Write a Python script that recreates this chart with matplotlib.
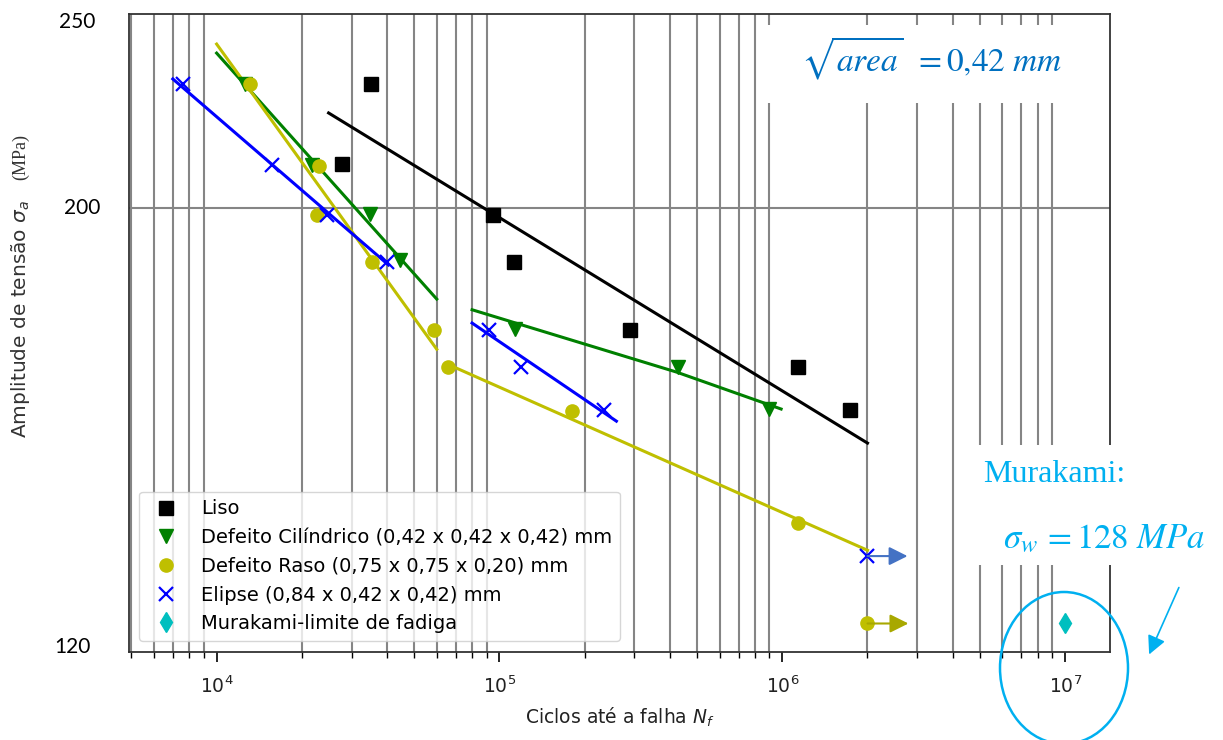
import matplotlib
matplotlib.use("Agg")
import matplotlib.pyplot as plt
from matplotlib.ticker import FixedLocator, NullFormatter
from matplotlib.patches import Ellipse, Rectangle, FancyArrowPatch

plt.rcParams["mathtext.fontset"] = "dejavusans"

# ---- data ----
liso_N = [27650, 35000, 94500, 112100, 290300, 1.139e6, 1.739e6]
liso_S = [210.4, 230.6, 198.4, 188.0, 173.8, 166.6, 158.5]
liso_fit_N = [24880, 2.0e6]
liso_fit_S = [223.1, 152.6]

cil_N = [12560, 21660, 34720, 44320, 113900, 429000, 899000]
cil_S = [230.6, 210.2, 198.6, 188.3, 174.1, 166.6, 158.7]
cil_fit1_N = [1.0e4, 6.0e4]
cil_fit1_S = [239.0, 180.1]
cil_fit2_N = [8.0e4, 4.22e5, 9.9e5]
cil_fit2_S = [177.9, 165.6, 158.7]

raso_N = [13080, 22930, 22560, 35290, 58450, 65520, 181100, 1.139e6, 2.0e6]
raso_S = [230.6, 210.0, 198.4, 188.0, 173.8, 166.6, 158.3, 139.2, 124.0]
raso_fit1_N = [1.0e4, 6.0e4]
raso_fit1_S = [241.5, 170.0]
raso_fit2_N = [65520, 2.0e6]
raso_fit2_S = [167.1, 134.9]

elip_N = [7585, 15640, 24470, 39870, 91450, 118700, 235000, 2.0e6]
elip_S = [230.6, 210.2, 198.4, 188.0, 173.8, 166.6, 158.5, 134.0]
elip_fit1_N = [7000, 40530]
elip_fit1_S = [232.0, 187.3]
elip_fit2_N = [8.0e4, 2.59e5]
elip_fit2_S = [175.2, 156.5]

mura_N = [1.0e7]
mura_S = [124.0]

# run-outs (arrows): start N, stress, arrow tip N
runout_blue = (2.0e6, 134.0, 2.77e6)
runout_yel = (2.0e6, 124.0, 2.79e6)

W, H = 1223, 740
fig = plt.figure(figsize=(W / 100, H / 100), dpi=100)
ax = fig.add_axes([129 / W, 1 - 652 / H, (1110 - 129) / W, (652 - 14) / H])


def fx(x, y):
    # pixel -> figure fraction
    return x / W, 1 - y / H


ax.plot(liso_fit_N, liso_fit_S, "k-", lw=2.2)
ax.plot(cil_fit1_N, cil_fit1_S, "g-", lw=2.2)
ax.plot(cil_fit2_N, cil_fit2_S, "g-", lw=2.2)
ax.plot(raso_fit1_N, raso_fit1_S, "y-", lw=2.2)
ax.plot(raso_fit2_N, raso_fit2_S, "y-", lw=2.2)
ax.plot(elip_fit1_N, elip_fit1_S, "b-", lw=2.2)
ax.plot(elip_fit2_N, elip_fit2_S, "b-", lw=2.2)

ax.plot(liso_N, liso_S, "ks", ms=9.5, label="Liso")
ax.plot(cil_N, cil_S, "gv", ms=10, label="Defeito Cilíndrico (0,42 x 0,42 x 0,42) mm")
ax.plot(raso_N, raso_S, "yo", ms=9.5, label="Defeito Raso (0,75 x 0,75 x 0,20) mm")
ax.plot(elip_N, elip_S, "bx", ms=10, mew=1.6, label="Elipse (0,84 x 0,42 x 0,42) mm")
ax.plot(mura_N, mura_S, "cd", ms=10, label="Murakami-limite de fadiga")

for (x0, y0, x1), col in [(runout_blue, "#4472c4"), (runout_yel, "#a8a800")]:
    ax.annotate("", xy=(x1, y0), xytext=(x0, y0),
                arrowprops=dict(arrowstyle="-|>", color=col, lw=1.5,
                                mutation_scale=28, shrinkA=0, shrinkB=0))

ax.set_xscale("log")
ax.set_yscale("log")
ax.set_xlim(4900, 1.44e7)
ax.set_ylim(120, 250)
ax.yaxis.set_minor_locator(FixedLocator([200]))
ax.yaxis.set_major_formatter(NullFormatter())
ax.yaxis.set_minor_formatter(NullFormatter())
ax.grid(which="minor", color="#858585", lw=1.5)
ax.set_axisbelow(True)
ax.tick_params(axis="y", which="both", length=0)
ax.tick_params(axis="x", which="major", length=7, width=1.2, labelsize=13.5,
               pad=10, labelcolor="#222222")
ax.tick_params(axis="x", which="minor", length=4, width=1.0)
for s in ax.spines.values():
    s.set_color("#333333")
    s.set_linewidth(1.3)

ax.set_xlabel("Ciclos até a falha $N_f$", fontsize=13.5, labelpad=6,
              color="#222222")

leg = ax.legend(loc="lower left", bbox_to_anchor=(0.0102, 0.0172),
                borderaxespad=0, fontsize=14, numpoints=1)

# y label (two parts, different fonts)
fig.text(*fx(21, 319), "Amplitude de tensão $\\sigma_a$", rotation=90,
         ha="center", va="center", fontsize=14.5, color="#333333")
fig.text(*fx(21, 157), "(MPa)", rotation=90, ha="center", va="center",
         fontsize=13, family="Liberation Serif", color="#333333")

# y tick labels pasted over the axis
for lab, x, y in [("250", 77, 22), ("200", 82, 208), ("120", 72, 647)]:
    fig.text(*fx(x, y), lab, ha="center", va="center", fontsize=15, family="Lato")

# white boxes for the annotations
fig.patches.append(Rectangle(fx(760, 103), (1105 - 760) / W, (103 - 25) / H,
                             transform=fig.transFigure, facecolor="white",
                             edgecolor="none", zorder=2))
fig.patches.append(Rectangle(fx(965, 565), (W - 965) / W, (565 - 445) / H,
                             transform=fig.transFigure, facecolor="white",
                             edgecolor="none", zorder=2))

fig.text(*fx(932, 58), r"$\sqrt{area}\ \,= 0{,}42\ mm$", ha="center", va="center",
         fontsize=24, color="#0070c0", zorder=3, math_fontfamily="stix")
fig.text(*fx(1054, 475), "Murakami:", ha="center", va="center", fontsize=23,
         family="Liberation Serif", color="#00b0f0", zorder=3)
fig.text(*fx(1104, 538), r"$\sigma_w\, = 128\ MPa$", ha="center", va="center",
         fontsize=25, color="#00b0f0", zorder=3, math_fontfamily="stix")

cx, cy = fx(1064, 668)
fig.patches.append(Ellipse((cx, cy), 128 / W, 152 / H, transform=fig.transFigure,
                           fill=False, edgecolor="#00b0f0", lw=1.8, zorder=3))
fig.patches.append(FancyArrowPatch(fx(1180, 585), fx(1148, 657),
                                   transform=fig.transFigure, arrowstyle="-|>",
                                   mutation_scale=28, color="#00b0f0", lw=1.2,
                                   zorder=3))

fig.savefig("out.png", dpi=100)
